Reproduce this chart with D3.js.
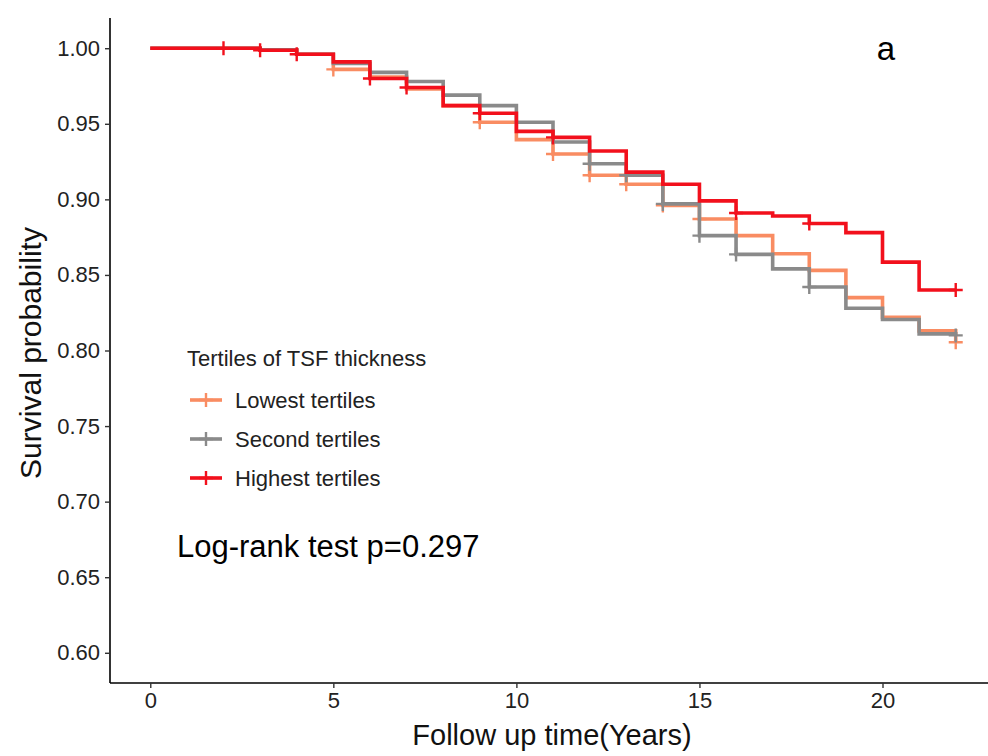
<!DOCTYPE html>
<html>
<head>
<meta charset="utf-8">
<script src="https://cdn.jsdelivr.net/npm/d3@7"></script>
<style>
  body { margin: 0; background: #fff; }
  text { font-family: "Liberation Sans", Arial, sans-serif; }
</style>
</head>
<body>
<div class="chart"></div>
<script>
var svgWidth = 988;
var svgHeight = 756;

// panel edges (ggplot style, axes on left and bottom only)
var margin = { top: 18, right: 0, bottom: 73, left: 110 };

// data
var years = d3.range(0, 23);
var groups = ["Lowest tertiles", "Second tertiles", "Highest tertiles"];
var colors = ["#f98c62", "#8a8a8a", "#f2101c"];

var lowest = [1, 1, 1, 0.999, 0.996, 0.986, 0.981, 0.973, 0.962, 0.951, 0.9395, 0.930,
  0.916, 0.910, 0.896, 0.887, 0.876, 0.864, 0.853, 0.835, 0.822, 0.813, 0.8055];
var second = [1, 1, 1, 0.999, 0.996, 0.990, 0.984, 0.978, 0.969, 0.962, 0.951, 0.938,
  0.9236, 0.916, 0.897, 0.876, 0.8636, 0.854, 0.842, 0.828, 0.8205, 0.811, 0.810];
var highest = [1, 1, 1, 0.9987, 0.996, 0.991, 0.980, 0.974, 0.962, 0.957, 0.945, 0.941,
  0.932, 0.918, 0.910, 0.899, 0.891, 0.889, 0.884, 0.878, 0.8585, 0.840, 0.840];

// censoring marks (years)
var censLowest = [5, 9, 11, 12, 13, 14, 15, 22];
var censSecond = [12, 13, 14, 15, 16, 18, 22];
var censHighest = [2, 3, 4, 6, 7, 9, 11, 16, 18, 22];

var xTicks = [0, 5, 10, 15, 20];
var yTicks = [0.60, 0.65, 0.70, 0.75, 0.80, 0.85, 0.90, 0.95, 1.00];

var series = [
  { name: groups[0], color: colors[0], values: lowest, cens: censLowest },
  { name: groups[1], color: colors[1], values: second, cens: censSecond },
  { name: groups[2], color: colors[2], values: highest, cens: censHighest }
];

var width = svgWidth - margin.left - margin.right;
var height = svgHeight - margin.top - margin.bottom;

var svg = d3.select(".chart")
  .append("svg")
  .attr("width", svgWidth)
  .attr("height", svgHeight);

var chartGroup = svg.append("g")
  .attr("transform", `translate(${margin.left}, ${margin.top})`);

// scales with ggplot's 5% expansion
var xScale = d3.scaleLinear()
  .domain([-1.1, 23.1])
  .range([0, 886]);

var yScale = d3.scaleLinear()
  .domain([0.58, 1.02])
  .range([height, 0]);

// axes
var bottomAxis = d3.axisBottom(xScale).tickValues(xTicks).tickSize(5).tickPadding(4)
  .tickFormat(d3.format("d"));
var leftAxis = d3.axisLeft(yScale).tickValues(yTicks).tickSize(5).tickPadding(5)
  .tickFormat(d3.format(".2f"));

var xAxis = chartGroup.append("g")
  .attr("transform", `translate(0, ${height})`)
  .call(bottomAxis);
xAxis.select(".domain").attr("d", `M0,0H${width}`);

var yAxis = chartGroup.append("g").call(leftAxis);
yAxis.select(".domain").attr("d", `M0,0V${height}`);

chartGroup.selectAll(".domain")
  .attr("stroke", "#000")
  .attr("stroke-width", 1.6);
chartGroup.selectAll(".tick line")
  .attr("stroke", "#333")
  .attr("stroke-width", 1.4);
chartGroup.selectAll(".tick text")
  .attr("fill", "#222")
  .style("font-size", "22px");

// step curves
var line = d3.line()
  .x((d, i) => xScale(years[i]))
  .y(d => yScale(d))
  .curve(d3.curveStepAfter);

series.forEach(function(s) {
  chartGroup.append("path")
    .attr("d", line(s.values))
    .attr("fill", "none")
    .attr("stroke", s.color)
    .attr("stroke-width", 3.6)
    .attr("stroke-linejoin", "miter");

  // censor "+" marks
  var marks = chartGroup.append("g");
  s.cens.forEach(function(t) {
    var cx = xScale(t);
    var cy = yScale(s.values[years.indexOf(t)]);
    marks.append("path")
      .attr("d", `M${cx - 7},${cy}H${cx + 7}M${cx},${cy - 7}V${cy + 7}`)
      .attr("stroke", s.color)
      .attr("stroke-width", 2.4)
      .attr("fill", "none");
  });
});

// axis titles
svg.append("text")
  .attr("x", 552)
  .attr("y", 745)
  .attr("text-anchor", "middle")
  .style("font-size", "29px")
  .attr("fill", "#111")
  .text("Follow up time(Years)");

svg.append("text")
  .attr("transform", "rotate(-90)")
  .attr("x", -353)
  .attr("y", 41)
  .attr("text-anchor", "middle")
  .style("font-size", "30px")
  .attr("fill", "#111")
  .text("Survival probability");

// panel tag
svg.append("text")
  .attr("x", 886)
  .attr("y", 60)
  .attr("text-anchor", "middle")
  .style("font-size", "33px")
  .attr("fill", "#000")
  .text("a");

// log-rank annotation
svg.append("text")
  .attr("x", 177)
  .attr("y", 557)
  .style("font-size", "31px")
  .attr("fill", "#000")
  .text("Log-rank test p=0.297");

// legend
var legend = svg.append("g").attr("transform", "translate(187, 358)");
legend.append("text")
  .attr("x", 0)
  .attr("y", 8)
  .style("font-size", "22px")
  .attr("fill", "#222")
  .text("Tertiles of TSF thickness");

series.forEach(function(s, i) {
  var ly = 42 + i * 39;
  legend.append("path")
    .attr("d", `M3,${ly}H35`)
    .attr("stroke", s.color)
    .attr("stroke-width", 3.6);
  legend.append("path")
    .attr("d", `M12,${ly}H26M19,${ly - 7}V${ly + 7}`)
    .attr("stroke", s.color)
    .attr("stroke-width", 2.4);
  legend.append("text")
    .attr("x", 48)
    .attr("y", ly + 8)
    .style("font-size", "22px")
    .attr("fill", "#222")
    .text(s.name);
});
</script>
</body>
</html>
